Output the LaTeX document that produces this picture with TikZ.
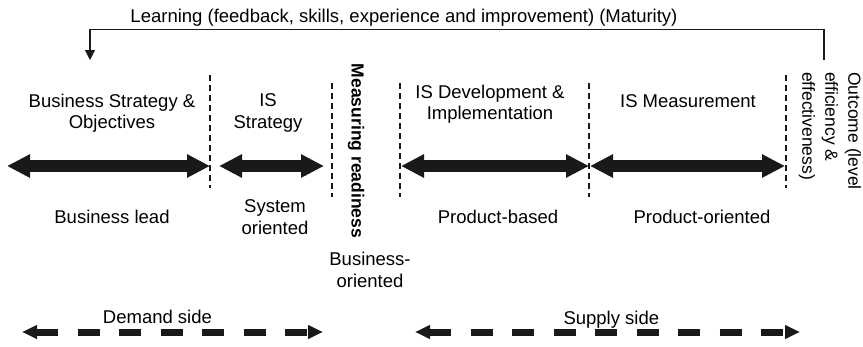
\documentclass[tikz,border=0pt]{standalone}
\usepackage{fontspec}
\setmainfont{Liberation Sans}
\usepackage{tikz}
\usetikzlibrary{positioning,arrows.meta}

\begin{document}
\begin{tikzpicture}[
    x=1pt, y=-1pt,
    lbl/.style={align=center, inner sep=0pt, font=\fontsize{18.5}{21.5}\selectfont},
    vlbl/.style={inner sep=0pt, rotate=-90, font=\fontsize{17.5}{23}\selectfont},
    divider/.style={draw=black!90, line width=1.3pt, dash pattern=on 6pt off 4pt},
    band/.style={{Triangle[length=23pt,width=22pt]}-{Triangle[length=23pt,width=22pt]}, line width=12pt, draw=black!90},
    side/.style={{Triangle[length=15pt,width=13pt]}-{Triangle[length=15pt,width=13pt]}, line width=7pt, dash pattern=on 22pt off 19.5pt, draw=black!90},
    fb/.style={-{Triangle[length=10pt,width=10pt]}, line width=1.2pt, draw=black!90},
]
    \useasboundingbox (0,0) rectangle (863,346);

    % Feedback loop
    \node[lbl, anchor=base] (learn) at (404,22) {Learning (feedback, skills, experience and improvement) (Maturity)};
    \coordinate (fbStart) at (824,60);
    \coordinate (fbEnd) at (90,60);
    \draw[fb] (fbStart) -- ++(0,-30.5) -| (fbEnd);

    % Dividers
    \coordinate (d1t) at (210,75);  \coordinate (d1b) at (210,188);
    \coordinate (d2t) at (332,83);  \coordinate (d2b) at (332,197);
    \coordinate (d3t) at (400,83);  \coordinate (d3b) at (400,197);
    \coordinate (d4t) at (589,83);  \coordinate (d4b) at (589,197);
    \coordinate (d5t) at (786,75);  \coordinate (d5b) at (786,188);
    \foreach \d in {d1,d2,d3,d4,d5}
        \draw[divider] (\d t) -- (\d b);

    % Stage headings
    \node[lbl] (bso) at (112,113) {Business Strategy \&\\Objectives};
    \node[lbl] (iss) at (268,113) {IS\\Strategy};
    \node[vlbl, font=\bfseries\fontsize{17.5}{23}\selectfont] (mr) at (356,151) {Measuring readiness};
    \node[lbl] (isd) at (490,104) {IS Development \&\\Implementation};
    \node[lbl] (ism) at (688,101) {IS Measurement};
    \node[vlbl, align=left, anchor=west] (out) at (830,72) {Outcome (level\\efficiency \&\\effectiveness)};

    % Stage bands
    \coordinate (b1l) at (7,166);   \coordinate (b1r) at (210,166);
    \coordinate (b2l) at (219,166); \coordinate (b2r) at (324,166);
    \coordinate (b3l) at (401,166); \coordinate (b3r) at (589,166);
    \coordinate (b4l) at (590,166); \coordinate (b4r) at (785,166);
    \foreach \b in {b1,b2,b3,b4}
        \draw[band] (\b l) -- (\b r);

    % Orientation
    \node[lbl] (lead) at (112,217) {Business lead};
    \node[lbl] (sysor) at (275,217) {System\\oriented};
    \node[lbl] (busor) at (370,270) {Business-\\oriented};
    \node[lbl] (prodb) at (498,217) {Product-based};
    \node[lbl] (prodor) at (702,217) {Product-oriented};

    % Demand and supply
    \coordinate (dmL) at (22,332);  \coordinate (dmR) at (323,332);
    \coordinate (spL) at (415,332); \coordinate (spR) at (800,332);
    \draw[side] (dmL) -- node[lbl, anchor=base, pos=0.45, yshift=9pt] (demand) {Demand side} (dmR);
    \draw[side] (spL) -- node[lbl, anchor=base, pos=0.51, yshift=8pt] (supply) {Supply side} (spR);
\end{tikzpicture}
\end{document}
